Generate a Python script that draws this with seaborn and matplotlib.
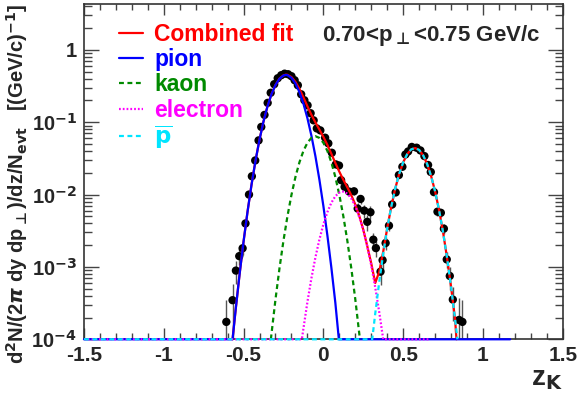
import numpy as np
import pandas as pd
import seaborn as sns
import matplotlib.pyplot as plt
from matplotlib.ticker import MultipleLocator, LogLocator, NullFormatter

z_data = [-0.608, -0.569, -0.548, -0.527, -0.506, -0.488, -0.466, -0.448, -0.427, -0.406,
          -0.389, -0.369, -0.349, -0.330, -0.308, -0.286, -0.264, -0.243, -0.221, -0.200,
          -0.180, -0.160, -0.139, -0.119, -0.099, -0.080, -0.061, -0.041, -0.019, 0.011,
          0.031, 0.053, 0.078, 0.098, 0.111, 0.133, 0.161, 0.192, 0.215, 0.233,
          0.256, 0.275, 0.295, 0.313, 0.329, 0.358, 0.371, 0.390, 0.411, 0.431,
          0.453, 0.473, 0.495, 0.514, 0.531, 0.554, 0.584, 0.608, 0.633, 0.656,
          0.673, 0.693, 0.715, 0.736, 0.755, 0.773, 0.792, 0.811, 0.850, 0.871]
yield_data = [1.74e-4, 3.47e-4, 8.9e-4, 1.41e-3, 1.81e-3, 3.99e-3, 1.00e-2, 1.79e-2, 2.96e-2, 5.6e-2,
              8.6e-2, 0.126, 0.185, 0.255, 0.335, 0.405, 0.446, 0.468, 0.460, 0.432,
              0.380, 0.324, 0.243, 0.201, 0.171, 0.133, 0.106, 0.082, 0.077, 0.061,
              0.051, 0.0378, 0.0261, 0.0252, 0.0158, 0.0128, 0.0110, 0.0111, 0.0064, 0.0087,
              0.0060, 0.0042, 0.0057, 0.00238, 0.00182, 8.6e-4, 1.24e-3, 2.14e-3, 3.72e-3, 7.3e-3,
              1.07e-2, 1.86e-2, 2.42e-2, 3.58e-2, 3.94e-2, 4.55e-2, 4.44e-2, 4.07e-2, 3.40e-2, 2.56e-2,
              2.05e-2, 1.08e-2, 5.8e-3, 5.6e-3, 3.38e-3, 1.27e-3, 7.5e-4, 3.54e-4, 1.85e-4, 1.74e-4]
rel_err = [1.0, 0.7, 0.35, 0.25, 0.2, 0.12, 0.08, 0.06, 0.05, 0.04,
           0.04, 0.03, 0.03, 0.03, 0.03, 0.03, 0.03, 0.03, 0.03, 0.03,
           0.03, 0.03, 0.03, 0.03, 0.03, 0.03, 0.03, 0.03, 0.04, 0.04,
           0.05, 0.06, 0.08, 0.08, 0.1, 0.12, 0.12, 0.12, 0.2, 0.15,
           0.2, 0.25, 0.2, 0.25, 0.25, 0.35, 0.3, 0.2, 0.15, 0.1,
           0.08, 0.06, 0.05, 0.04, 0.04, 0.04, 0.04, 0.04, 0.05, 0.05,
           0.06, 0.08, 0.12, 0.12, 0.15, 0.25, 0.35, 0.5, 1.0, 1.0]

# fit curves (clipped at the bottom of the frame)
comb_z = [-0.569, -0.55, -0.525, -0.5, -0.475, -0.45, -0.425, -0.4, -0.375, -0.35,
          -0.325, -0.3, -0.275, -0.25, -0.235, -0.225, -0.2, -0.175, -0.15, -0.125,
          -0.1, -0.075, -0.05, -0.025, 0.0, 0.025, 0.05, 0.075, 0.1, 0.125,
          0.15, 0.175, 0.2, 0.225, 0.25, 0.275, 0.3, 0.325, 0.35, 0.375,
          0.4, 0.425, 0.45, 0.475, 0.5, 0.525, 0.55, 0.575, 0.6, 0.625,
          0.65, 0.675, 0.7, 0.725, 0.75, 0.775, 0.8, 0.825, 0.834]
comb_y = [1e-4, 2.52e-4, 7.9e-4, 2.25e-3, 5.83e-3, 1.377e-2, 2.95e-2, 5.77e-2, 0.1026, 0.166,
          0.244, 0.327, 0.400, 0.444, 0.4537, 0.4516, 0.4202, 0.3603, 0.2888, 0.2207,
          0.1661, 0.1266, 0.0994, 0.0792, 0.0628, 0.0486, 0.0366, 0.0273, 0.0207, 0.0160,
          0.0126, 9.79e-3, 7.27e-3, 5.06e-3, 3.27e-3, 1.94e-3, 1.12e-3, 6.0e-4, 8.6e-4, 1.63e-3,
          3.43e-3, 6.74e-3, 1.204e-2, 1.933e-2, 2.787e-2, 3.612e-2, 4.205e-2, 4.4e-2, 4.134e-2, 3.49e-2,
          2.648e-2, 1.805e-2, 1.105e-2, 6.08e-3, 3.01e-3, 1.33e-3, 5.33e-4, 1.91e-4, 1e-4]

pion_z = [-1.5, -0.569, -0.55, -0.525, -0.5, -0.475, -0.45, -0.425, -0.4, -0.375,
          -0.35, -0.325, -0.3, -0.275, -0.25, -0.235, -0.225, -0.2, -0.175, -0.15,
          -0.125, -0.1, -0.075, -0.05, -0.025, 0.0, 0.025, 0.05, 0.075, 0.097, 1.17]
pion_y = [1e-4, 1e-4, 2.52e-4, 7.9e-4, 2.25e-3, 5.83e-3, 1.377e-2, 2.95e-2, 5.77e-2, 0.1026,
          0.166, 0.244, 0.327, 0.399, 0.442, 0.45, 0.4466, 0.4103, 0.3428, 0.2609,
          0.1806, 0.1138, 0.0652, 0.0340, 0.01611, 6.96e-3, 2.74e-3, 9.8e-4, 3.19e-4, 1e-4, 1e-4]

kaon_z = [-0.329, -0.3, -0.275, -0.25, -0.225, -0.2, -0.175, -0.15, -0.125, -0.1,
          -0.075, -0.05, -0.025, 0.0, 0.025, 0.05, 0.075, 0.1, 0.125, 0.15,
          0.175, 0.2, 0.229]
kaon_y = [1e-4, 3.57e-4, 9.57e-4, 2.31e-3, 5.03e-3, 9.88e-3, 0.0175, 0.0279, 0.0401, 0.052,
          0.0607, 0.064, 0.0607, 0.052, 0.0401, 0.0279, 0.0175, 9.88e-3, 5.03e-3, 2.31e-3,
          9.57e-4, 3.57e-4, 1e-4]

electron_z = [-1.5, -0.135, -0.1, -0.075, -0.05, -0.025, 0.0, 0.025, 0.05, 0.075,
              0.1, 0.125, 0.15, 0.175, 0.2, 0.225, 0.25, 0.275, 0.3, 0.325,
              0.35, 0.375, 0.67]
electron_y = [1e-4, 1e-4, 3.28e-4, 6.96e-4, 1.35e-3, 2.39e-3, 3.87e-3, 5.71e-3, 7.71e-3, 9.49e-3,
              1.068e-2, 1.098e-2, 1.03e-2, 8.83e-3, 6.91e-3, 4.94e-3, 3.23e-3, 1.92e-3, 1.05e-3, 5.21e-4,
              2.37e-4, 1e-4, 1e-4]

pbar_z = [-1.5, 0.306, 0.325, 0.35, 0.375, 0.4, 0.425, 0.45, 0.475, 0.5,
          0.525, 0.55, 0.575, 0.6, 0.625, 0.65, 0.675, 0.7, 0.725, 0.75,
          0.775, 0.8, 0.825, 0.84]
pbar_y = [1e-4, 1e-4, 2.27e-4, 6.2e-4, 1.53e-3, 3.39e-3, 6.74e-3, 1.204e-2, 1.933e-2, 2.787e-2,
          3.612e-2, 4.205e-2, 4.4e-2, 4.134e-2, 3.49e-2, 2.648e-2, 1.805e-2, 1.105e-2, 6.08e-3, 3.01e-3,
          1.33e-3, 5.33e-4, 1.91e-4, 1e-4]

x_ticks = [-1.5, -1, -0.5, 0, 0.5, 1, 1.5]
x_tick_labels = ["-1.5", "-1", "-0.5", "0", "0.5", "1", "1.5"]
y_ticks = [1e-4, 1e-3, 1e-2, 1e-1, 1]
y_tick_labels = ["10$^{\\mathbf{-4}}$", "10$^{\\mathbf{-3}}$", "10$^{\\mathbf{-2}}$",
                 "10$^{\\mathbf{-1}}$", "1"]

sns.set_style("ticks")
plt.rcParams['font.family'] = ['Liberation Sans', 'DejaVu Sans']
plt.rcParams['font.weight'] = 'bold'
plt.rcParams['mathtext.fontset'] = 'dejavusans'
plt.rcParams['axes.unicode_minus'] = False

fig = plt.figure(figsize=(5.79, 3.98), dpi=100)
ax = fig.add_axes([0.145, 0.1475, 0.827, 0.8425])
ax.set_yscale('log')

# data points with error bars
yerr = np.array(yield_data) * np.array(rel_err)
ax.errorbar(z_data, yield_data, yerr=yerr, fmt='none', ecolor='#555555', elinewidth=1.0, zorder=2)
sns.scatterplot(x=z_data, y=yield_data, color='black', s=36, edgecolor='none', zorder=3, ax=ax)

curves = [
    ("Combined fit", comb_z, comb_y, '#ff0000', '-'),
    ("pion", pion_z, pion_y, '#0000ff', '-'),
    ("kaon", kaon_z, kaon_y, '#008a00', (0, (2.2, 1.6))),
    ("electron", electron_z, electron_y, '#ff00ff', (0, (0.8, 0.9))),
    ("$\\overline{\\mathbf{p}}$", pbar_z, pbar_y, '#00e5ff', (0, (2.2, 1.6))),
]
for i, (name, cz, cy, col, ls) in enumerate(curves):
    df = pd.DataFrame({"z": cz, "y": cy})
    sns.lineplot(data=df, x="z", y="y", ax=ax, color=col, linestyle=ls, lw=1.6,
                 sort=False, estimator=None, label=name, zorder=4 + i, clip_on=False)

ax.set_xlim(-1.5, 1.5)
ax.set_ylim(1e-4, 4.3)
ax.set_xticks(x_ticks)
ax.set_xticklabels(x_tick_labels)
ax.xaxis.set_minor_locator(MultipleLocator(0.1))
ax.set_yticks(y_ticks)
ax.set_yticklabels(y_tick_labels)
ax.yaxis.set_minor_locator(LogLocator(base=10, subs=np.arange(2, 10)))
ax.yaxis.set_minor_formatter(NullFormatter())

ax.tick_params(axis='both', which='both', direction='in', top=True, right=True,
               color='#444444')
ax.tick_params(axis='x', labelsize=15, pad=5)
ax.tick_params(axis='y', labelsize=14.5, pad=5)
ax.tick_params(axis='y', which='major', length=11, width=1)
ax.tick_params(axis='y', which='minor', length=6, width=1)
ax.tick_params(axis='x', which='major', length=8, width=1)
ax.tick_params(axis='x', which='minor', length=4, width=1)
for sp in ax.spines.values():
    sp.set_linewidth(1.2)
    sp.set_color('#333333')

ax.set_ylabel("d$^{\\mathbf{2}}$N/(2$\\pi$ dy dp$_{\\mathbf{\\bot}}$)/dz/N$_{\\mathbf{evt}}$"
              "   [(GeV/c)$^{\\mathbf{-1}}$]",
              fontsize=14.5, fontweight='bold', va='center')
ax.yaxis.set_label_coords(-0.14, 0.465)
ax.set_xlabel("z$_{\\mathbf{K}}$", fontsize=20, fontweight='bold', ha='right', va='top')
ax.xaxis.set_label_coords(1.0, -0.08)

ax.text(0.497, 0.905, "0.70<p$_{\\mathbf{\\bot}}$<0.75 GeV/c", transform=ax.transAxes,
        fontsize=16, fontweight='bold', ha='left', va='center')

ax.legend(loc='upper left', bbox_to_anchor=(0.073, 0.944), frameon=False,
          prop={'weight': 'bold', 'size': 16.5}, labelcolor='linecolor',
          handlelength=1.05, handletextpad=0.5, labelspacing=0.1,
          borderaxespad=0, borderpad=0)

fig.savefig("out.png", dpi=100)
